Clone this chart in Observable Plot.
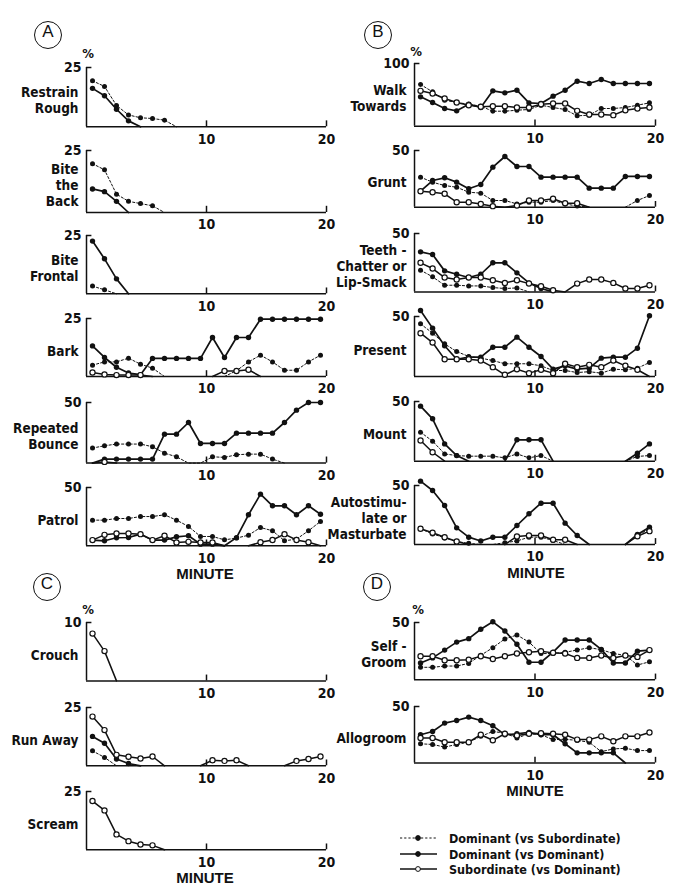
<!DOCTYPE html>
<html><head><meta charset="utf-8">
<script src="https://cdn.jsdelivr.net/npm/d3@7"></script>
<script src="https://cdn.jsdelivr.net/npm/@observablehq/plot@0.6"></script>
<style>
body{margin:0;background:#fff;}
#root{position:relative;width:699px;height:890px;overflow:hidden;background:#fff;}
.circ{position:absolute;width:26px;height:26px;border:1.3px solid #111;border-radius:50%;text-align:center;line-height:26px;font:17px "Liberation Sans",Arial,sans-serif;color:#111;}
.txt{position:absolute;color:#111;white-space:nowrap;}
.minute{font:bold 15px "Liberation Sans",Arial,sans-serif;transform:translate(-50%,-50%);}
.pct{font:bold 13px "Liberation Sans Narrow","DejaVu Sans Condensed",sans-serif;transform:translate(-50%,-50%);}
.leg{font:bold 12.5px "Liberation Sans Narrow","DejaVu Sans Condensed",sans-serif;transform:translateY(-50%);}
</style></head><body><div id="root"></div>
<script>
const FONT = '"Liberation Sans Narrow","Arial Narrow","DejaVu Sans Condensed",sans-serif';

// ---- Data (% of animals, minutes 1..20) ----
const minutes = d3.range(20).map(i => i + 0.5);
const xTicks = [10, 20];
const legendLabels = ["Dominant (vs Subordinate)", "Dominant (vs Dominant)", "Subordinate (vs Dominant)"];

// A
const restrainDomSub = [19.4,17,9,5,3.8,3.5,2.8,0,0,0,0,0,0,0,0,0,0,0,0,0];
const restrainDomDom = [16.2,13.1,7.4,2.5,0,0,0,0,0,0,0,0,0,0,0,0,0,0,0,0];
const biteBackDomSub = [19.7,17.2,7.4,4.5,3.6,2.7,0,0,0,0,0,0,0,0,0,0,0,0,0,0];
const biteBackDomDom = [9.5,8.4,4.5,0,0,0,0,0,0,0,0,0,0,0,0,0,0,0,0,0];
const biteFrontDomSub = [3.3,1.7,0,0,0,0,0,0,0,0,0,0,0,0,0,0,0,0,0,0];
const biteFrontDomDom = [22.6,15,6.4,0,0,0,0,0,0,0,0,0,0,0,0,0,0,0,0,0];
const barkDomSub = [4.9,6.3,6.3,7.9,5.3,3.6,0,0,0,0,0,0,2.5,6.3,9.2,6.3,2.7,2.7,6.3,9.2];
const barkDomDom = [13.2,8.2,4,1.5,0.8,7.8,7.8,7.8,7.8,7.8,16.8,8.2,16.8,16.8,24.7,24.7,24.7,24.7,24.7,24.7];
const barkSubDom = [1.7,0.9,0.6,0.6,0.6,0,0,0,0,0,0,2.4,2.4,2.9,0,0,0,0,0,0];
const bounceDomSub = [12.4,14.3,15.7,15.7,15.7,13.5,8.2,5.2,0,0,5.2,4.7,6.9,7.4,7.4,3.3,0,0,0,0];
const bounceDomDom = [0,3.3,3.3,3.3,3.3,3.3,23.9,23.9,33.5,16.2,16.2,16.2,24.7,24.7,24.7,24.7,33.5,43.7,50,50];
const bounceSubDom = [0,1,0,0,0,0,0,0,0,0,0,0,0,0,0,0,0,0,0,0];
const patrolDomSub = [22,22,23.4,23.4,25.1,25.1,26.6,22,16.6,8,8,5.1,6.6,9.1,15.7,12.9,4.3,5.7,12.9,20.9];
const patrolDomDom = [4.9,4.3,6.9,7.1,10,4.9,4.9,7.7,8.6,1.4,1.4,0,7,26.6,44.3,34.3,34.3,26.6,34.3,27.1];
const patrolSubDom = [4.9,9.4,10.6,10.6,10,4.9,8.6,2.9,3.4,2.9,2.9,0,0,0,3,5,10,5,3,0];

// B
const walkDomSub = [66.5,54.8,41.5,37.8,35.1,31.9,23.9,23.9,25.5,26.6,33.5,29.8,26.6,16.5,17.6,28.2,28.2,29.8,33.5,37.2];
const walkDomDom = [46.8,37.8,28.2,24.5,35.1,29.8,56.4,53.2,57.4,37.2,36.2,47.9,57.4,71.8,68.1,74.5,68.1,68.1,68.1,68.1];
const walkSubDom = [56.4,52.1,44.1,37.8,33.5,30.9,31.9,31.9,29.8,29.8,35.1,36.2,36.2,24.5,18.6,18.6,17.6,25.5,28.2,29.8];
const gruntDomSub = [26.5,22,19.1,17.6,13.2,12.4,5.9,5.9,2.9,4.4,4.4,5.9,2.9,1,0,0,0,0,5.9,10.3];
const gruntDomDom = [14.1,23.5,25.9,22.1,16.2,20,35.3,44.7,35.9,35.9,26.5,26.5,26.5,26.5,16.8,16.8,16.8,27.1,27.1,27.1];
const gruntSubDom = [14.1,13.2,11.8,4.4,4.4,2.9,0.9,0,1.5,5.9,5.9,7.4,3.5,3.5,0,0,0,0,0,0];
const teethDomSub = [18.6,12.9,5.7,5.7,5.1,5.1,3.7,2.9,3.4,0,0,0,0,0,0,0,0,0,0,0];
const teethDomDom = [34.3,32,18,15.1,12.3,15.1,24.9,24.9,16.3,7.7,2.9,0,0,0,0,0,0,0,0,0];
const teethSubDom = [24.9,20,12.3,10.6,12.3,12.3,10,7.7,10,7.1,4.9,1.4,0,7.1,10.6,10.6,7.7,2.9,2.9,5.7];
const presentDomSub = [43.9,36.1,27.2,20.8,16.7,15.3,13.3,10.6,10.6,10.6,8.9,5,5,3.3,4,2.8,6.1,5.6,6.9,11.7];
const presentDomDom = [55,40.3,25.6,14.4,16.1,16.1,24.4,24.4,32.8,24.4,16.7,6.1,8.9,6.1,6.9,15.3,16.1,16.1,23.6,50.6];
const presentSubDom = [36.1,28.3,14.4,14.4,14.4,13.3,7.8,1.4,6.1,2.8,5.6,2.8,10.6,7.8,9.7,7.8,13.3,8.9,5.6,0];
const mountDomSub = [24.3,16.8,6.1,4.7,4.2,4.2,4.2,2.8,6.1,2.8,4.7,0,0,0,0,0,0,0,4,4.7];
const mountDomDom = [46.1,35.5,14.5,4.7,0,0,0,0,17.9,17.9,17.9,0,0,0,0,0,0,0,6.7,14.5];
const mountSubDom = [17.3,7.5,0,0,0,0,0,0,0,0,0,0,0,0,0,0,0,0,0,0];
const autoDomSub = [13.3,9,5.6,2.5,1,0,0,1.5,3,6.2,6.2,3.4,0,0,0,0,0,0,7.6,13.3];
const autoDomDom = [53.7,45.8,33.1,14.1,6.2,3,6.2,6.2,16.1,26,35,35,18.1,7.6,0,0,0,0,8.5,14.7];
const autoSubDom = [13.3,10,6.2,2.5,0,0,0,0,6.8,7.6,7.6,4,4,0,0,0,0,0,7,11.3];

// C
const crouchSubDom = [8.1,5.1,0,0,0,0,0,0,0,0,0,0,0,0,0,0,0,0,0,0];
const runDomSub = [6.4,3.6,0,0,0,0,0,0,0,0,0,0,0,0,0,0,0,0,0,0];
const runDomDom = [12.6,9.7,2.9,1,0,0,0,0,0,0,0,0,0,0,0,0,0,0,0,0];
const runSubDom = [21.1,15.3,4.7,3.9,3.1,4,0,0,0,0,2.4,2.1,2.4,0,0,0,0,2.1,2.9,4];
const screamSubDom = [20.9,16.9,6.6,3.7,2.3,1.9,0,0,0,0,0,0,0,0,0,0,0,0,0,0];

// D
const selfDomSub = [10.9,10.9,12,12,14.3,21.4,28,35.7,39.1,32.9,22.9,22.9,24,26,28,26.3,22.9,21.4,12.9,15.7];
const selfDomDom = [14.7,19.1,25.9,32.9,35.9,44.1,50.6,42.6,31,15.3,15.3,24.1,34.7,34.7,34.7,26.5,14.7,14.7,25,25.9];
const selfSubDom = [20.6,20.6,17.1,17.1,17.6,20.6,18.2,20.6,22.9,24.1,25,23.5,22.9,19.1,19.1,21.2,19.1,21.2,20,25.9];
const alloDomSub = [17,16.4,14.1,16.4,18.4,23.6,27.9,26.4,22.1,25.9,25,20.7,21,20,18.4,10,12.5,13,11,11];
const alloDomDom = [25,27.9,35.3,37.6,40.6,37.6,32.9,25,25.9,27.1,25,25,17,9,9,9,9,0,0,0];
const alloSubDom = [22.1,22.1,18.4,18.4,18.4,25,20.1,25.9,24.4,25.9,26.4,25.9,25,20.7,20.7,23.6,19.3,23.6,23.6,27];

// ---- Panel layout ----
const colA = {xl: 86, xr: 326, ml: 86};
const colB = {xl: 414, xr: 655, ml: 90};
const panels = [
  {col: colA, T: 66.7, B: 126, max: 25, label: "Restrain\nRough", s: [restrainDomSub, restrainDomDom, null]},
  {col: colA, T: 150, B: 212, max: 25, label: "Bite\nthe\nBack", s: [biteBackDomSub, biteBackDomDom, null]},
  {col: colA, T: 235, B: 293.3, max: 25, label: "Bite\nFrontal", s: [biteFrontDomSub, biteFrontDomDom, null]},
  {col: colA, T: 318, B: 376, max: 25, label: "Bark", s: [barkDomSub, barkDomDom, barkSubDom]},
  {col: colA, T: 401.7, B: 462.3, max: 50, label: "Repeated\nBounce", s: [bounceDomSub, bounceDomDom, bounceSubDom]},
  {col: colA, T: 486.7, B: 545, max: 50, label: "Patrol", s: [patrolDomSub, patrolDomDom, patrolSubDom]},
  {col: colB, T: 63.3, B: 126, max: 100, label: "Walk\nTowards", s: [walkDomSub, walkDomDom, walkSubDom]},
  {col: colB, T: 150, B: 206.7, max: 50, label: "Grunt", s: [gruntDomSub, gruntDomDom, gruntSubDom]},
  {col: colB, T: 233.3, B: 291.7, max: 50, label: "Teeth -\nChatter or\nLip-Smack", s: [teethDomSub, teethDomDom, teethSubDom]},
  {col: colB, T: 316, B: 376, max: 50, label: "Present", s: [presentDomSub, presentDomDom, presentSubDom]},
  {col: colB, T: 401, B: 460.7, max: 50, label: "Mount", s: [mountDomSub, mountDomDom, mountSubDom]},
  {col: colB, T: 485, B: 544, max: 50, label: "Autostimu-\nlate or\nMasturbate", s: [autoDomSub, autoDomDom, autoSubDom]},
  {col: colA, T: 622.3, B: 680.7, max: 10, label: "Crouch", s: [null, null, crouchSubDom]},
  {col: colA, T: 706.7, B: 765, max: 25, label: "Run Away", s: [runDomSub, runDomDom, runSubDom]},
  {col: colA, T: 791, B: 849.3, max: 25, label: "Scream", s: [null, null, screamSubDom]},
  {col: colB, T: 621.7, B: 679, max: 50, label: "Self -\nGroom", s: [selfDomSub, selfDomDom, selfSubDom]},
  {col: colB, T: 705.5, B: 762, max: 50, label: "Allogroom", s: [alloDomSub, alloDomDom, alloSubDom]}
];

const root = document.getElementById("root");

function pts(v) {
  return v.map((y, i) => ({x: minutes[i], y: (y > 0 || v[i - 1] > 0 || v[i + 1] > 0) ? y : NaN, raw: y}));
}

const styles = [
  {line: {stroke: "#111", strokeWidth: 1, strokeDasharray: "2.2,2"}, dot: {r: 2.5, fill: "#111", stroke: "none"}},
  {line: {stroke: "#111", strokeWidth: 1.7}, dot: {r: 2.7, fill: "#111", stroke: "none"}},
  {line: {stroke: "#111", strokeWidth: 1.5}, dot: {r: 2.6, fill: "#fff", stroke: "#111", strokeWidth: 1.2}}
];

function drawPanel(p) {
  const mt = 12, mb = 24, mr = 22, ml = p.col.ml;
  const marks = [
    Plot.ruleY([0], {x1: 0, x2: 20, stroke: "#111", strokeWidth: 1.5}),
    Plot.ruleX([0], {y1: 0, y2: p.max, stroke: "#111", strokeWidth: 1.5}),
    Plot.ruleY([p.max], {x1: 0, x2: 0.45, stroke: "#111", strokeWidth: 1.5}),
    Plot.ruleX(xTicks, {y1: 0, y2: p.max * 0.1, stroke: "#111", strokeWidth: 1.5}),
    Plot.axisX({ticks: xTicks, tickSize: 0, tickPadding: 7, label: null}),
    Plot.axisY({ticks: [p.max], tickSize: 0, tickPadding: 5, label: null}),
    Plot.text([p.label], {frameAnchor: "left", dx: -8, dy: 3, textAnchor: "end", lineHeight: 1.18, fill: "#111", fontSize: 13.5})
  ];
  p.s.forEach((v, k) => {
    if (!v) return;
    const d = pts(v);
    marks.push(Plot.line(d, {x: "x", y: "y", ...styles[k].line}));
  });
  p.s.forEach((v, k) => {
    if (!v) return;
    const d = pts(v).filter(o => o.raw > 0);
    marks.push(Plot.dot(d, {x: "x", y: "y", ...styles[k].dot}));
  });
  const svg = Plot.plot({
    width: ml + (p.col.xr - p.col.xl) + mr,
    height: (p.B - p.T) + mt + mb,
    marginLeft: ml, marginRight: mr, marginTop: mt, marginBottom: mb,
    x: {domain: [0, 20]},
    y: {domain: [0, p.max]},
    style: {fontFamily: FONT, fontSize: "14px", fontWeight: "bold", overflow: "visible", background: "transparent", color: "#111"},
    marks
  });
  svg.style.position = "absolute";
  svg.style.left = (p.col.xl - ml) + "px";
  svg.style.top = (p.T - mt) + "px";
  root.appendChild(svg);
}
panels.forEach(drawPanel);

function addDiv(cls, text, x, y) {
  const d = document.createElement("div");
  d.className = cls; d.textContent = text;
  d.style.left = x + "px"; d.style.top = y + "px";
  root.appendChild(d);
  return d;
}
// circled group letters
[["A", 48, 35], ["B", 378, 35], ["C", 47, 587], ["D", 377, 587]].forEach(([t, x, y]) => {
  addDiv("circ", t, x - 14, y - 14);
});
// percent marks
[[88, 53], [416, 51], [88, 609], [418, 609]].forEach(([x, y]) => addDiv("txt pct", "%", x, y));
// MINUTE labels
[[205, 573], [536, 572], [205, 877], [535, 790]].forEach(([x, y]) => addDiv("txt minute", "MINUTE", x, y));

// legend
const legSvgNS = "http://www.w3.org/2000/svg";
const legY = [838, 854, 869];
const leg = document.createElementNS(legSvgNS, "svg");
leg.setAttribute("width", 60); leg.setAttribute("height", 60);
leg.style.position = "absolute"; leg.style.left = "395px"; leg.style.top = "825px";
legY.forEach((y, k) => {
  const ly = y - 825;
  const ln = document.createElementNS(legSvgNS, "line");
  ln.setAttribute("x1", 5); ln.setAttribute("x2", 42); ln.setAttribute("y1", ly); ln.setAttribute("y2", ly);
  ln.setAttribute("stroke", "#111"); ln.setAttribute("stroke-width", styles[k].line.strokeWidth);
  if (styles[k].line.strokeDasharray) ln.setAttribute("stroke-dasharray", styles[k].line.strokeDasharray);
  leg.appendChild(ln);
  const c = document.createElementNS(legSvgNS, "circle");
  c.setAttribute("cx", 23); c.setAttribute("cy", ly); c.setAttribute("r", 2.4);
  c.setAttribute("fill", styles[k].dot.fill); c.setAttribute("stroke", "#111"); c.setAttribute("stroke-width", 1);
  leg.appendChild(c);
  addDiv("txt leg", legendLabels[k], 449, y);
});
root.appendChild(leg);
</script></body></html>
